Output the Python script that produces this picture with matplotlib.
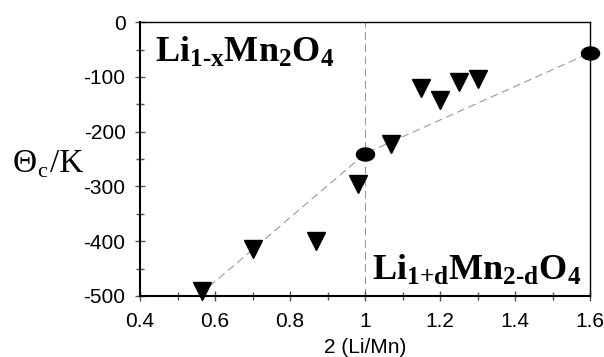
import matplotlib
matplotlib.use("Agg")
import matplotlib.pyplot as plt
import numpy as np
from matplotlib.path import Path
from matplotlib.ticker import MultipleLocator

plt.rcParams["mathtext.fontset"] = "custom"
plt.rcParams["mathtext.rm"] = "Liberation Serif:bold"
plt.rcParams["mathtext.bf"] = "Liberation Serif:bold"
plt.rcParams["mathtext.it"] = "Liberation Serif:bold"

# Data
tri_x = [0.565, 0.70, 0.87, 0.98, 1.07, 1.15, 1.20, 1.25, 1.30]
tri_y = [-491, -414, -400, -296, -223, -121, -142, -109, -103]
ell_x = [1.0, 1.6]
ell_y = [-240, -56]
fit_x = [0.56, 1.0, 1.6]
fit_y = [-497, -240, -56]
xticks = [0.4, 0.6, 0.8, 1.0, 1.2, 1.4, 1.6]
xticklabels = ["0.4", "0.6", "0.8", "1", "1.2", "1.4", "1.6"]
yticks = [0, -100, -200, -300, -400, -500]

fig = plt.figure(figsize=(6.04, 3.57), dpi=100)
ax = fig.add_axes([0.232, 0.171, 0.745, 0.767])

ax.plot(fit_x, fit_y, color="#999999", lw=0.8, dashes=(7, 4), zorder=1)
ax.axvline(1.0, color="#999999", lw=0.8, dashes=(7, 4), zorder=1)

ax.plot(tri_x, tri_y, linestyle="none", marker="v", markersize=12.5,
        color="black", clip_on=False, zorder=3)

t = np.linspace(0, 2 * np.pi, 60)
ell = Path(np.column_stack([np.cos(t), 0.72 * np.sin(t)]), closed=True)
ax.plot(ell_x, ell_y, linestyle="none", marker=ell, markersize=13,
        color="black", clip_on=False, zorder=3)

ax.set_xlim(0.4, 1.6)
ax.set_ylim(-500, 0)
ax.set_xticks(xticks)
ax.set_xticklabels(xticklabels)
ax.set_yticks(yticks)
ax.set_yticklabels([str(v) for v in yticks])
ax.xaxis.set_minor_locator(MultipleLocator(0.1))
ax.yaxis.set_minor_locator(MultipleLocator(50))
ax.tick_params(which="both", direction="inout", color="#555555",
               labelsize=15, length=7, width=1)
ax.tick_params(which="minor", length=6)
for lab in ax.get_xticklabels() + ax.get_yticklabels():
    lab.set_family("Liberation Sans")
ax.tick_params(axis="y", pad=7)
ax.tick_params(axis="x", pad=8)

for s in ["left", "bottom"]:
    ax.spines[s].set_linewidth(1.5)
for s in ["top", "right"]:
    ax.spines[s].set_linewidth(1.0)

ax.set_xlabel("2 (Li/Mn)", family="Liberation Sans", fontsize=15, labelpad=5)

# y label: Θc/K
yb = 1 - 172 / 357
fig.text(13 / 604, yb, "Θ", family="Liberation Serif", fontsize=24,
         ha="left", va="baseline")
fig.text(37 / 604, 1 - 177 / 357, "c", family="Liberation Serif", fontsize=16,
         ha="left", va="baseline")
fig.text(50 / 604, yb, "/K", family="Liberation Serif", fontsize=24,
         ha="left", va="baseline")

ax.text(0.033, 0.854, r"$\mathrm{Li_{1\text{-}x}Mn_2O_4}$", transform=ax.transAxes,
        fontsize=26, ha="left", va="baseline")
ax.text(0.516, 0.058, r"$\mathrm{Li_{1\text{+}d}Mn_{2\text{-}d}O_4}$",
        transform=ax.transAxes, fontsize=26, ha="left", va="baseline")

fig.savefig("out.png", dpi=100)
